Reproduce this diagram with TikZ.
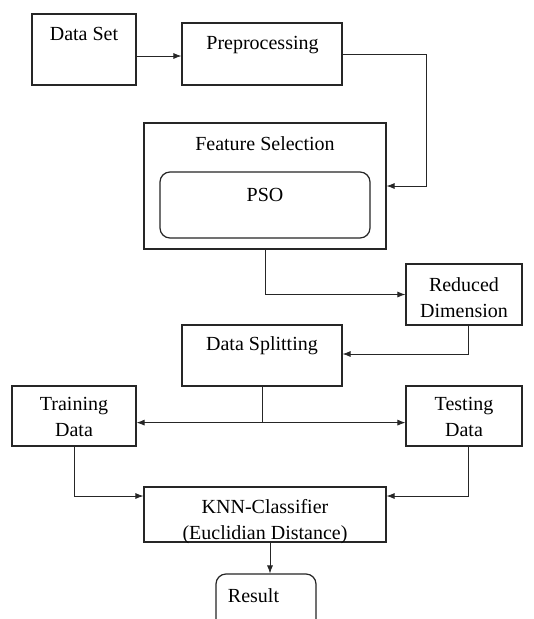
\documentclass[tikz,border=0pt]{standalone}
\usepackage{fontspec}
\setmainfont{Liberation Serif}
\newfontfamily\tnrfont{Liberation Serif}
\usetikzlibrary{arrows.meta}
\begin{document}
\begin{tikzpicture}[x=1pt,y=-1pt,
  box/.style={draw=black!85, line width=1.2pt, rectangle, inner sep=0pt},
  rbox/.style={box, rounded corners=10pt},
  txt/.style={inner sep=0pt, anchor=base, align=center, font=\tnrfont\fontsize{20}{26}\selectfont},
  conn/.style={draw=black!85, line width=0.8pt},
  arr/.style={conn, -{Latex[length=8pt,width=6pt]}}]
\useasboundingbox (0,0) rectangle (534,619);
\clip (0,0) rectangle (534,619);
\fill[white] (0,0) rectangle (534,619);
% boxes
\node[box, minimum width=104pt, minimum height=71pt] (ds) at (84,49.5) {};
\node[box, minimum width=160pt, minimum height=62pt] (pre) at (262,54) {};
\node[box, minimum width=242pt, minimum height=126pt] (fs) at (265,186) {};
\node[rbox, minimum width=210pt, minimum height=66pt] (pso) at (265,205) {};
\node[box, minimum width=116pt, minimum height=61pt] (rd) at (464,294.5) {};
\node[box, minimum width=160pt, minimum height=61pt] (dsp) at (262,355.5) {};
\node[box, minimum width=124pt, minimum height=60pt] (tr) at (74,416) {};
\node[box, minimum width=116pt, minimum height=60pt] (te) at (464,416) {};
\node[box, minimum width=242pt, minimum height=55pt] (knn) at (265,514.5) {};
\node[rbox, minimum width=100pt, minimum height=70pt] (res) at (266,609) {};
% texts
\node[txt] (tds) at (84,40) {Data Set};
\node[txt] (tpre) at (262.5,49) {Preprocessing};
\node[txt] (tfs) at (265,150) {Feature Selection};
\node[txt] (tpso) at (265,201) {PSO};
\node[txt] (trd) at (464,317) {Reduced\\Dimension};
\node[txt] (tdsp) at (262,350.5) {Data Splitting};
\node[txt] (ttr) at (74,436) {Training\\Data};
\node[txt] (tte) at (464,436) {Testing\\Data};
\node[txt] (tknn) at (265,539) {KNN-Classifier\\(Euclidian\ Distance)};
\node[txt] (tres) at (253.5,602) {Result};
% connectors
\draw[arr] ([yshift=-6.5pt]ds.east) -- ([yshift=-6.5pt]ds.east -| pre.west);
\draw[arr] (pre.east) -- ++(84,0) |- (fs.east);
\draw[arr] (fs.south) |- (rd.west);
\draw[arr] ([xshift=4pt]rd.south) |- ([yshift=1.5pt]dsp.east);
\draw[conn] (dsp.south) -- ++(0,36) coordinate (j);
\draw[arr] (j) -- (j -| tr.east);
\draw[arr] (j) -- (j -| te.west);
\draw[arr] (tr.south) |- ([yshift=18.5pt]knn.west);
\draw[arr] ([xshift=4pt]te.south) |- ([yshift=18.5pt]knn.east);
\draw[arr] ([xshift=5pt]knn.south) -- ([xshift=5pt]knn.south |- res.north);
\end{tikzpicture}
\end{document}
